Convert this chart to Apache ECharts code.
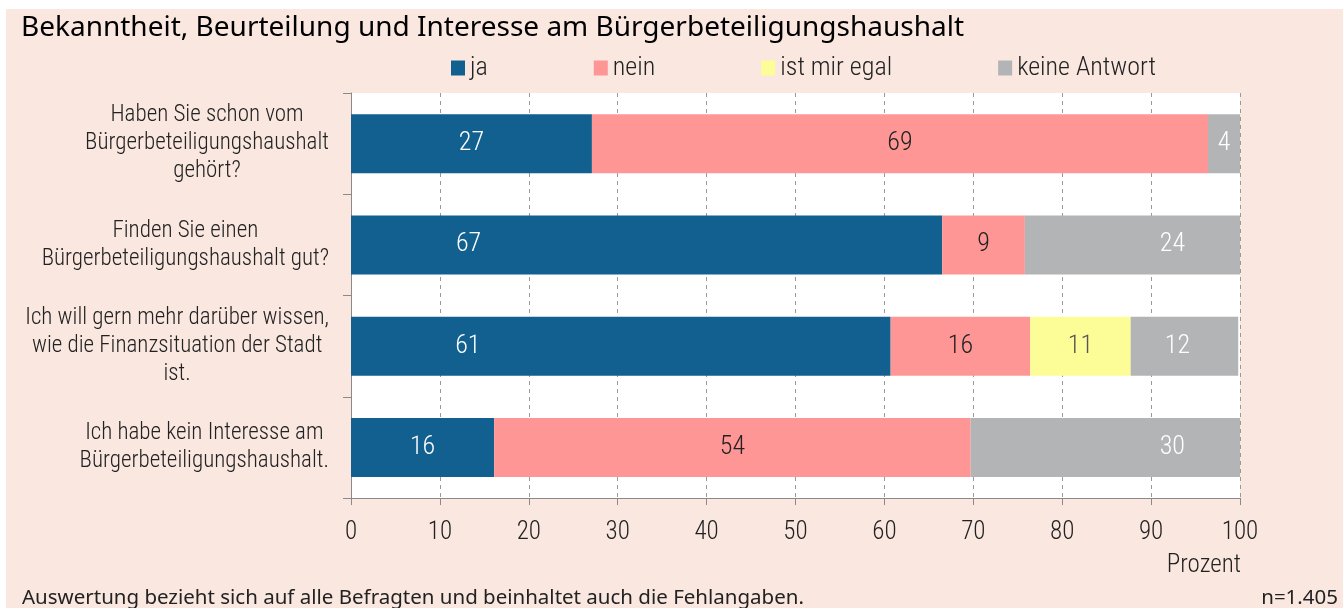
<!DOCTYPE html>
<html>
<head>
<meta charset="utf-8">
<script src="https://cdn.jsdelivr.net/npm/echarts@6/dist/echarts.min.js"></script>
<style>
  html, body { margin: 0; padding: 0; background: #fff; }
  #chart { width: 1343px; height: 608px; }
</style>
</head>
<body>
<div id="chart"></div>
<script>
const categories = [
  'Haben Sie schon vom\nBürgerbeteiligungshaushalt\ngehört?',
  'Finden Sie einen\nBürgerbeteiligungshaushalt gut?',
  'Ich will gern mehr darüber wissen,\nwie die Finanzsituation der Stadt\nist.',
  'Ich habe kein Interesse am\nBürgerbeteiligungshaushalt.'
]
const seriesNames = ['ja', 'nein', 'ist mir egal', 'keine Antwort']
const jaValues = [27.1, 66.5, 60.7, 16.1]
const neinValues = [69.3, 9.3, 15.7, 53.6]
const egalValues = [null, null, 11.3, null]
const keineValues = [3.6, 24.2, 12.1, 30.3]
const xTicks = [0, 10, 20, 30, 40, 50, 60, 70, 80, 90, 100]

const narrow = '"Roboto Condensed", "DejaVu Sans Condensed", sans-serif'
const colors = ['#11608f', '#ff9696', '#fdfd98', '#b3b4b6']
const labelColors = ['#ffffff', '#222222', '#555555', '#ffffff']
// Verschiebung der Beschriftungen wie im Original (nicht immer mittig)
const labelShift = [
  [0, -178, -153, 0],
  [0, 0, 0, 0],
  [0, 0, 0, 0],
  [0, 40, -7, 67]
]

const chart = echarts.init(document.getElementById('chart'))

const allValues = [jaValues, neinValues, egalValues, keineValues]
const series = allValues.map((vals, i) => ({
  name: seriesNames[i],
  type: 'bar',
  stack: 'total',
  barWidth: 59,
  itemStyle: { color: colors[i] },
  label: {
    show: true,
    position: 'inside',
    color: labelColors[i],
    fontFamily: narrow,
    fontWeight: 300,
    fontSize: 26,
    formatter: p => (p.value == null ? '' : Math.round(p.value))
  },
  data: vals.map((v, j) => ({
    value: v,
    label: { offset: [labelShift[i][j], 0] }
  }))
}))

chart.setOption({
  backgroundColor: '#f9e7e0',
  animation: false,
  title: {
    text: 'Bekanntheit, Beurteilung und Interesse am Bürgerbeteiligungshaushalt',
    left: 16,
    top: 9,
    textStyle: { fontFamily: '"Noto Sans", sans-serif', fontSize: 28, fontWeight: 'normal', color: '#000' }
  },
  legend: {
    left: 446,
    top: 50,
    itemGap: 106,
    itemWidth: 14,
    itemHeight: 15,
    itemTextGap: 4,
    textStyle: { fontFamily: narrow, fontWeight: 300, fontSize: 26, color: '#222' },
    icon: 'rect',
    data: seriesNames
  },
  grid: {
    left: 351,
    right: 103,
    top: 93,
    bottom: 110,
    outerBoundsMode: 'none',
    containLabel: false,
    show: true,
    backgroundColor: '#ffffff',
    borderWidth: 0
  },
  xAxis: {
    type: 'value',
    min: 0,
    max: 100,
    interval: 10,
    axisLine: { show: true, lineStyle: { color: '#8a8a8a', width: 1 } },
    axisTick: { show: true, length: 7, lineStyle: { color: '#8a8a8a' } },
    splitLine: { show: true, lineStyle: { color: '#999', type: [4, 4], width: 1 } },
    axisLabel: {
      margin: 22,
      fontFamily: narrow,
      fontWeight: 300,
      fontSize: 25,
      color: '#222',
      formatter: v => (xTicks.includes(v) ? String(v) : '')
    }
  },
  yAxis: {
    type: 'category',
    inverse: true,
    data: categories,
    axisLine: { show: true, lineStyle: { color: '#8a8a8a', width: 1 } },
    axisTick: { show: true, length: 8, lineStyle: { color: '#8a8a8a' } },
    splitLine: { show: false },
    axisLabel: {
      margin: 22,
      align: 'right',
      fontFamily: narrow,
      fontWeight: 300,
      fontSize: 23,
      lineHeight: 28,
      color: '#222',
      formatter: v => v.split('\n').map(l => '{c|' + l + '}').join('\n'),
      rich: {
        c: { align: 'center', fontFamily: narrow, fontWeight: 300, fontSize: 23, lineHeight: 28, color: '#222' }
      }
    }
  },
  graphic: [
    { type: 'rect', shape: { x: 0, y: 0, width: 1343, height: 9 }, style: { fill: '#ffffff' }, silent: true },
    { type: 'rect', shape: { x: 0, y: 0, width: 6, height: 608 }, style: { fill: '#ffffff' }, silent: true },
    {
      type: 'text', right: 102, top: 553,
      style: { text: 'Prozent', fontFamily: narrow, fontWeight: 300, fontSize: 25, fill: '#222' }
    },
    {
      type: 'text', left: 22, top: 588,
      style: { text: 'Auswertung bezieht sich auf alle Befragten und beinhaltet auch die Fehlangaben.', fontFamily: '"Noto Sans", sans-serif', fontSize: 20.5, fill: '#222' }
    },
    {
      type: 'text', right: 5, top: 588,
      style: { text: 'n=1.405', fontFamily: '"Noto Sans", sans-serif', fontSize: 20.5, fill: '#222' }
    }
  ],
  series: series
})
</script>
</body>
</html>
